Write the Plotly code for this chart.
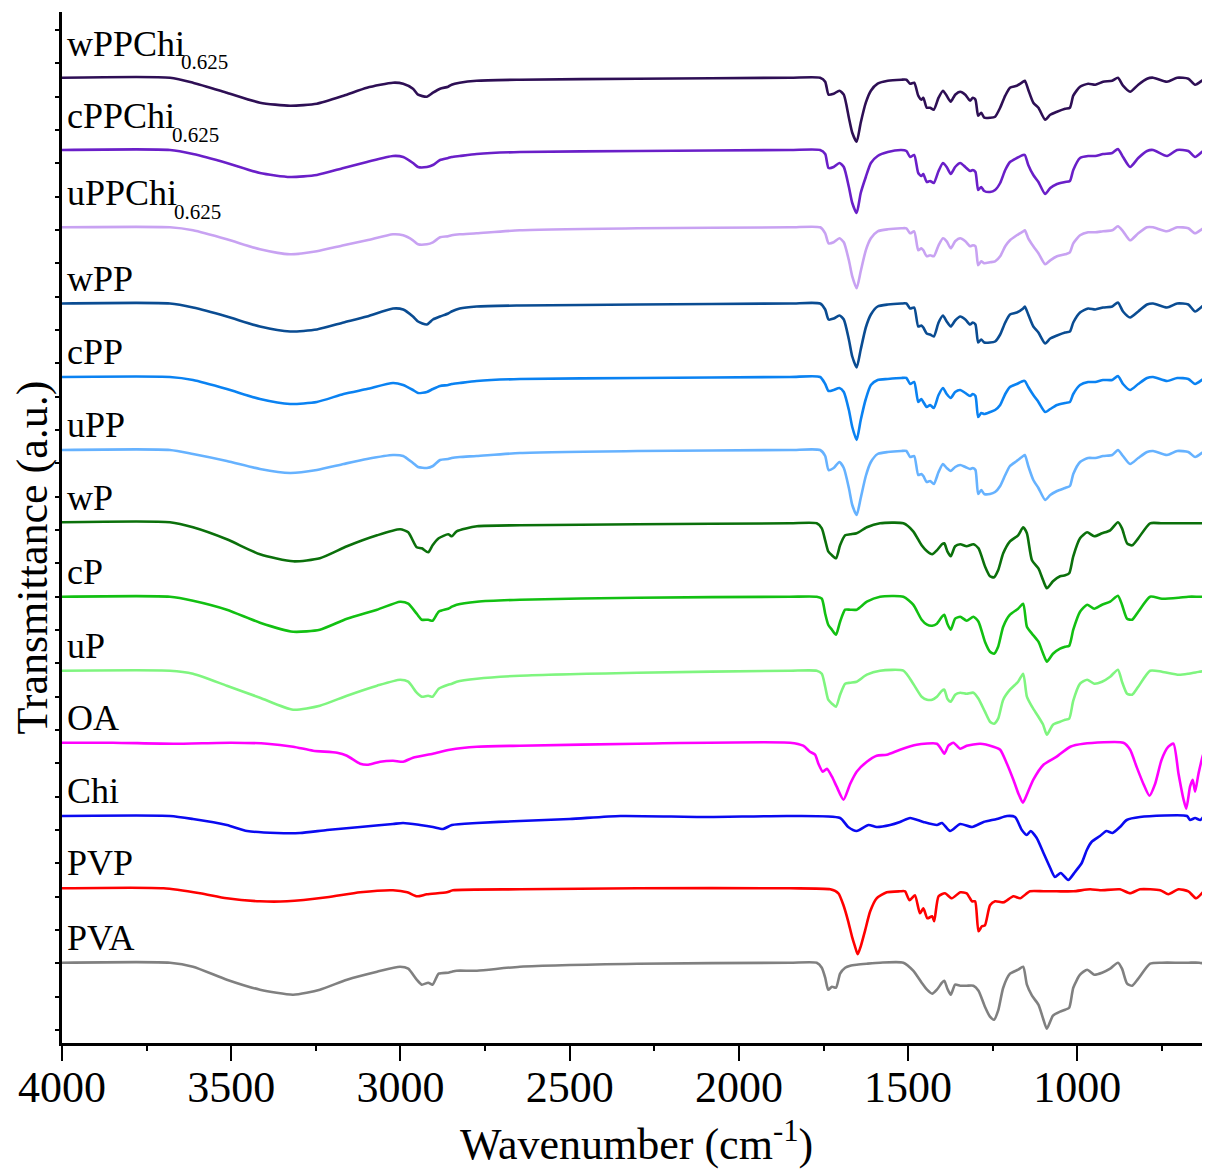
import plotly.graph_objects as go

# ---------------- wavenumber grids (cm-1) ----------------
wn_pp_oh = [4000, 3681, 3613, 3513, 3415, 3326, 3247, 3168, 3099, 3022, 2992, 2963, 2948,
            2922, 2904, 2883, 2859, 2849, 2825, 2775, 2647, 2300]
wn_pp_fp = [1850, 1760, 1745, 1735, 1720, 1703, 1690, 1675, 1665, 1652, 1640, 1625, 1610, 1590,
            1560, 1520, 1505, 1494, 1482, 1470, 1461, 1455, 1445, 1435, 1424, 1410, 1397, 1386,
            1374, 1361, 1346, 1331, 1317, 1309, 1301, 1293, 1284, 1275, 1258, 1243, 1228, 1213,
            1199, 1179, 1160, 1155, 1145, 1130, 1115, 1095, 1080, 1060, 1036, 1022, 1012, 992,
            968, 947, 924, 897, 880, 865, 844, 820, 794, 776, 735, 705, 672, 652, 628, 617, 608]

wn_p_oh = [4000, 3681, 3613, 3513, 3415, 3317, 3238, 3158, 3069, 3001, 2977, 2952, 2937,
           2918, 2905, 2887, 2859, 2848, 2834, 2774, 2647, 2300]
wn_p_fp = [1850, 1770, 1755, 1745, 1736, 1725, 1713, 1701, 1686, 1671, 1652, 1622, 1583, 1514,
           1485, 1460, 1444, 1429, 1415, 1400, 1393, 1384, 1374, 1361, 1346, 1327, 1307, 1292,
           1273, 1258, 1246, 1234, 1219, 1199, 1175, 1160, 1149, 1134, 1115, 1101, 1090, 1072,
           1051, 1036, 1024, 1012, 992, 971, 950, 927, 903, 880, 868, 853, 838, 820, 785, 750,
           700, 672, 640, 608]

wn_oa_oh = [4000, 3850, 3671, 3500, 3394, 3317, 3258, 3187, 3158, 3119, 3095, 3060, 3022,
            2992, 2963, 2904, 2854, 2774, 2647, 2300]
wn_oa_fp = [1849, 1810, 1790, 1775, 1765, 1752, 1740, 1725, 1711, 1691, 1671, 1652, 1622, 1593,
            1563, 1524, 1475, 1415, 1403, 1393, 1381, 1366, 1346, 1327, 1287, 1248, 1228, 1208,
            1189, 1174, 1161, 1148, 1130, 1100, 1061, 1021, 982, 864, 844, 825, 805, 787, 770,
            751, 731, 716, 701, 686, 678, 667, 659, 652, 642, 627, 617, 610]

wn_chi_oh = [4000, 3681, 3613, 3513, 3453, 3365, 3297, 3217, 3119, 3022, 2992, 2942, 2904,
             2874, 2848, 2774, 2647, 2500, 2350, 2100]
wn_chi_fp = [1849, 1701, 1677, 1652, 1617, 1593, 1553, 1524, 1494, 1455, 1415, 1400, 1376, 1346,
             1311, 1277, 1238, 1208, 1184, 1164, 1149, 1138, 1120, 1100, 1080, 1066, 1049, 1027,
             1007, 987, 972, 958, 933, 914, 896, 874, 854, 815, 676, 667, 652, 637, 624, 610]

wn_pvp_oh = [4000, 3700, 3592, 3513, 3415, 3335, 3217, 3119, 3022, 2980, 2951, 2922, 2863,
             2845, 2647, 2300]
wn_pvp_fp = [1849, 1730, 1706, 1691, 1677, 1666, 1657, 1649, 1640, 1627, 1612, 1593, 1563, 1524,
             1509, 1496, 1480, 1465, 1455, 1443, 1429, 1423, 1410, 1391, 1371, 1346, 1327, 1311,
             1302, 1292, 1282, 1273, 1258, 1243, 1218, 1189, 1169, 1140, 1100, 1061, 1012, 962,
             933, 874, 844, 815, 755, 731, 701, 672, 649, 623, 610]

# ---------------- absorption depths below each trace's baseline (a.u.) ----------------
wPPChi_oh = [0, 0, 5, 15, 25, 28, 26, 18, 10, 5, 6, 11, 17, 19, 15, 11, 9, 7, 5, 3, 2, 1]
wPPChi_fp = [0, 0, 4, 17, 16, 13, 17, 40, 55, 64, 45, 25, 13, 6, 3, 2, 2, 6, 5, 18,
             22, 20, 30, 30, 32, 20, 13, 18, 24, 17, 14, 17, 23, 20, 22, 38, 35, 40, 40, 39,
             30, 18, 10, 8, 4, 3, 12, 25, 30, 42, 37, 34, 31, 30, 18, 9, 6, 7, 4, 3,
             0, 8, 14, 7, 1, 0, 4, 0, 1, 7, 2, 0, 1]
cPPChi_oh = [0, 0, 4, 13, 23, 27, 25, 18, 12, 6, 7, 13, 17, 17, 15, 10, 8, 7, 6, 4, 2, 1]
cPPChi_fp = [0, 0, 4, 18, 17, 13, 17, 37, 53, 63, 43, 27, 13, 6, 2, 0, 1, 7, 5, 23,
             26, 24, 32, 31, 33, 21, 13, 17, 24, 17, 13, 17, 21, 20, 22, 40, 37, 41, 42, 40,
             33, 20, 12, 8, 5, 5, 15, 25, 32, 44, 38, 34, 32, 31, 20, 8, 6, 6, 4, 3,
             -1, 7, 17, 8, 1, 0, 6, 0, 1, 7, 1, 0, 0]
uPPChi_oh = [0, 0, 3, 12, 22, 27, 24, 18, 13, 7, 8, 13, 17, 17, 15, 10, 9, 8, 7, 6, 3, 1]
uPPChi_fp = [0, 0, 6, 16, 15, 11, 15, 33, 49, 61, 44, 23, 11, 4, 2, 1, 1, 6, 4, 23,
             21, 23, 29, 28, 29, 18, 11, 14, 21, 14, 11, 14, 19, 18, 19, 38, 34, 36, 35, 34,
             29, 19, 13, 8, 4, 3, 11, 19, 26, 37, 33, 29, 27, 25, 16, 8, 5, 5, 4, 3,
             -1, 4, 13, 6, 0, 0, 4, 0, 1, 6, 1, 0, 0]
wPP_oh = [0, 0, 4, 13, 23, 28, 26, 19, 13, 5, 6, 13, 18, 21, 16, 13, 10, 8, 5, 3, 2, 1]
wPP_fp = [0, 0, 6, 16, 15, 12, 16, 36, 53, 64, 46, 24, 11, 3, 1, 0, 0, 5, 4, 23,
          22, 24, 30, 31, 33, 19, 12, 18, 23, 17, 13, 16, 21, 19, 21, 39, 36, 39, 39, 38,
          31, 19, 11, 9, 5, 3, 11, 23, 29, 40, 35, 32, 29, 28, 19, 9, 5, 6, 4, 3,
          -1, 8, 14, 8, 1, 0, 4, 0, 1, 8, 2, -1, 0]
cPP_oh = [0, 0, 3, 12, 22, 27, 25, 17, 12, 6, 8, 13, 16, 15, 12, 9, 8, 7, 6, 4, 2, 1]
cPP_fp = [0, 0, 7, 14, 13, 11, 15, 33, 50, 63, 43, 22, 8, 3, 2, 1, 1, 7, 5, 25,
          22, 25, 30, 28, 31, 18, 11, 17, 21, 15, 13, 16, 19, 17, 19, 40, 36, 37, 35, 33,
          28, 17, 10, 7, 4, 4, 10, 18, 25, 35, 32, 28, 26, 25, 17, 8, 5, 5, 3, 3,
          -1, 7, 13, 7, 1, 0, 4, 1, 2, 7, 2, -1, 1]
uPP_oh = [0, 0, 4, 11, 19, 23, 20, 14, 9, 5, 6, 13, 17, 18, 16, 10, 9, 8, 7, 6, 3, 1]
uPP_fp = [0, 0, 6, 20, 18, 12, 18, 38, 55, 65, 48, 26, 12, 4, 2, 1, 1, 7, 6, 25,
          24, 26, 32, 31, 34, 22, 14, 18, 21, 17, 15, 17, 19, 18, 20, 44, 40, 44, 44, 42,
          36, 25, 16, 11, 6, 5, 16, 30, 38, 50, 45, 41, 38, 36, 24, 12, 8, 8, 6, 5,
          0, 6, 14, 8, 2, 1, 5, 1, 2, 7, 2, 0, 0]

wP_oh = [-1, -1, 4, 16, 31, 38, 35, 23, 12, 6, 9, 24, 25, 29, 22, 15, 11, 13, 8, 3, 2, 1]
wP_fp = [0, 0, 5, 17, 28, 32, 35, 22, 12, 11, 10, 4, 0, 0, 8, 22, 28, 31, 27, 21,
         20, 28, 33, 23, 21, 23, 21, 25, 43, 53, 54, 47, 30, 18, 12, 4, 10, 37, 45, 57,
         65, 58, 53, 52, 50, 33, 15, 9, 13, 10, 7, -1, 5, 20, 22, 15, 0, 0, 0, 0, 0, 0]
cP_oh = [0, 0, 4, 13, 26, 35, 33, 22, 13, 5, 7, 17, 23, 23, 24, 15, 12, 10, 8, 5, 3, 1]
cP_fp = [0, 0, 2, 17, 28, 33, 38, 25, 13, 13, 13, 5, 0, 0, 8, 23, 28, 29, 27, 20,
         18, 27, 33, 22, 20, 24, 20, 25, 45, 55, 57, 50, 30, 18, 12, 7, 30, 37, 45, 57,
         65, 57, 52, 50, 49, 33, 15, 8, 12, 8, 5, -1, 8, 22, 23, 15, 0, 2, 1, 0, 0, 0]
uP_oh = [0, 0, 3, 15, 27, 39, 35, 25, 15, 9, 11, 22, 26, 25, 26, 18, 14, 13, 11, 8, 5, 2]
uP_fp = [0, 0, 3, 16, 29, 33, 36, 24, 13, 12, 11, 4, 0, 0, 13, 26, 29, 29, 26, 20,
         19, 28, 31, 24, 22, 23, 22, 28, 41, 51, 53, 48, 29, 19, 11, 3, 26, 36, 46, 54,
         64, 54, 51, 49, 48, 30, 13, 9, 13, 11, 6, -1, 11, 23, 24, 16, 0, 1, 4, 3, 1, 0]
PVA_oh = [0, 0, 4, 17, 27, 32, 27, 17, 9, 4, 6, 17, 22, 20, 22, 11, 10, 9, 8, 8, 4, 1]
PVA_fp = [0, 0, 5, 15, 27, 24, 25, 11, 5, 3, 2, 1, 0, 0, 8, 20, 27, 31, 27, 20,
          18, 26, 32, 22, 23, 23, 23, 28, 44, 54, 57, 48, 25, 11, 7, 4, 22, 33, 42, 56,
          66, 53, 49, 47, 45, 25, 12, 7, 12, 10, 6, 0, 6, 21, 23, 16, 1, 0, 0, 0, 0, 2]

OA_oh = [0, 0, 1, 0, 1, 4, 8, 10, 13, 21, 22, 19, 18, 19, 15, 11, 7, 4, 3, 1]
OA_fp = [0, 3, 9, 12, 21, 29, 26, 34, 44, 57, 41, 29, 19, 13, 12, 7, 2, 1, 6, 11,
         3, 0, 6, 3, 1, 4, 7, 21, 37, 51, 60, 51, 37, 22, 14, 4, 1, 0, 7, 24,
         41, 53, 41, 17, 4, 1, 31, 57, 66, 44, 37, 49, 31, 11, 7, 4]
Chi_oh = [0, 0, 3, 9, 15, 17, 17, 14, 11, 8, 7, 9, 11, 13, 9, 7, 5, 3, 0, 1]
Chi_fp = [0, 2, 11, 15, 9, 11, 9, 6, 2, 6, 9, 7, 15, 8, 11, 6, 3, 0, 1, 14,
          19, 15, 22, 37, 52, 61, 57, 64, 56, 47, 34, 26, 20, 15, 17, 11, 4, 1, 0, 4,
          2, 4, 0, 6]
PVP_oh = [0, 0, 5, 10, 13, 13, 9, 4, 2, 4, 8, 6, 4, 2, 1, 0]
PVP_fp = [0, 1, 5, 17, 33, 48, 58, 66, 58, 42, 23, 10, 4, 3, 3, 12, 7, 25, 20, 30,
          28, 33, 8, 5, 10, 4, 5, 13, 13, 43, 38, 37, 17, 13, 14, 8, 10, 3, 3, 3,
          3, 1, 2, 1, 5, 1, 2, 6, 1, 3, 10, 2, 1]

# ---------------- trace names, stacking baselines, colours ----------------
label_main = ["wPPChi", "cPPChi", "uPPChi", "wPP", "cPP", "uPP", "wP", "cP", "uP",
              "OA", "Chi", "PVP", "PVA"]
label_sub = ["0.625", "0.625", "0.625", "", "", "", "", "", "", "", "", "", ""]
sub_x = [0.102, 0.094, 0.096, 0, 0, 0, 0, 0, 0, 0, 0, 0, 0]
baselines = [965.3, 893.0, 815.7, 739.5, 666.0, 593.0, 519.7, 446.3, 372.3, 300.3, 227.0, 154.7, 80.3]
colors = ["#2e0f55", "#6a1fc8", "#c8a2f2", "#0a4c92", "#0a82f2", "#66b2ff",
          "#0b700b", "#12c012", "#7ff57f", "#ff00ff", "#0a0af0", "#ff0000", "#808080"]

series = [
    (wn_pp_oh + wn_pp_fp, wPPChi_oh + wPPChi_fp),
    (wn_pp_oh + wn_pp_fp, cPPChi_oh + cPPChi_fp),
    (wn_pp_oh + wn_pp_fp, uPPChi_oh + uPPChi_fp),
    (wn_pp_oh + wn_pp_fp, wPP_oh + wPP_fp),
    (wn_pp_oh + wn_pp_fp, cPP_oh + cPP_fp),
    (wn_pp_oh + wn_pp_fp, uPP_oh + uPP_fp),
    (wn_p_oh + wn_p_fp, wP_oh + wP_fp),
    (wn_p_oh + wn_p_fp, cP_oh + cP_fp),
    (wn_p_oh + wn_p_fp, uP_oh + uP_fp),
    (wn_oa_oh + wn_oa_fp, OA_oh + OA_fp),
    (wn_chi_oh + wn_chi_fp, Chi_oh + Chi_fp),
    (wn_pvp_oh + wn_pvp_fp, PVP_oh + PVP_fp),
    (wn_p_oh + wn_p_fp, PVA_oh + PVA_fp),
]

FONT = "Liberation Serif, Times New Roman, serif"

fig = go.Figure()
for (wn, depth), base, col, main, sub, sx in zip(series, baselines, colors, label_main, label_sub, sub_x):
    fig.add_trace(go.Scatter(
        x=wn, y=[base - d for d in depth], mode="lines", name=main + sub,
        line=dict(color=col, width=2.6, shape="spline", smoothing=0.6),
        showlegend=False, hoverinfo="skip"))
    fig.add_annotation(
        x=0.003, xref="paper", xanchor="left",
        y=base + (12 if sub else 3), yref="y", yanchor="bottom",
        text=main, showarrow=False, font=dict(family=FONT, size=36, color="black"))
    if sub:
        fig.add_annotation(
            x=sx, xref="paper", xanchor="left",
            y=base + 1.5, yref="y", yanchor="bottom",
            text=sub, showarrow=False, font=dict(family=FONT, size=21, color="black"))

fig.add_annotation(x=0.5, xref="paper", y=-0.096, yref="paper", xanchor="center", yanchor="middle",
                   text="Wavenumber (cm<sup>-1</sup>)", showarrow=False,
                   font=dict(family=FONT, size=44, color="black"))
fig.add_annotation(x=-0.026, xref="paper", y=0.471, yref="paper", xanchor="center", yanchor="middle",
                   text="Transmittance (a.u.)", textangle=-90, showarrow=False,
                   font=dict(family=FONT, size=44, color="black"))

fig.update_layout(
    width=1202, height=1161,
    margin=dict(l=54, r=0, t=4, b=126),
    paper_bgcolor="white", plot_bgcolor="white",
    font=dict(family=FONT, color="black"),
    xaxis=dict(range=[4000, 608], tickmode="array",
               tickvals=[4000, 3500, 3000, 2500, 2000, 1500, 1000],
               ticktext=["4000", "3500", "3000", "2500", "2000", "1500", "1000"],
               ticks="outside", ticklen=15, tickwidth=2, tickcolor="black",
               ticklabelstandoff=-12,
               minor=dict(dtick=250, tick0=0, ticks="outside", ticklen=5, tickwidth=1.5, tickcolor="black"),
               showline=True, linewidth=3, linecolor="black", showgrid=False, zeroline=False,
               tickfont=dict(family=FONT, size=44, color="black")),
    yaxis=dict(range=[0, 1031], tick0=13, dtick=33.33, ticks="outside", ticklen=4, tickwidth=1.5,
               tickcolor="black", showticklabels=False, showline=True, linewidth=3,
               linecolor="black", showgrid=False, zeroline=False),
)

fig.write_html("out.html")
